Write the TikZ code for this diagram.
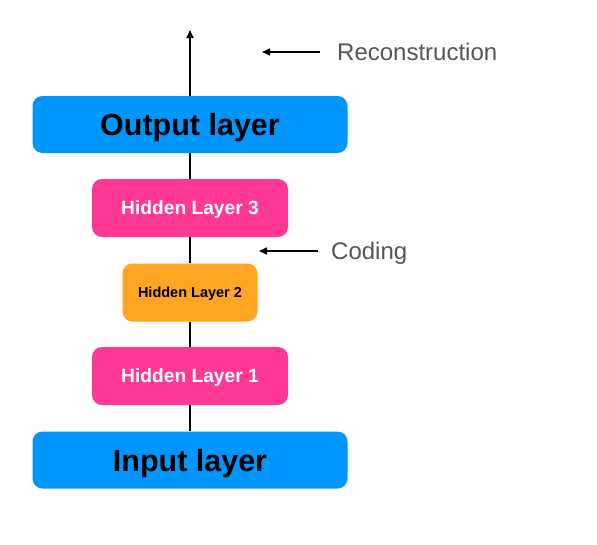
\documentclass[tikz,border=0pt]{standalone}
\usepackage{fontspec}
\setmainfont{Liberation Sans}
\usetikzlibrary{arrows.meta}
\definecolor{cblue}{RGB}{0,150,255}
\definecolor{cpink}{RGB}{255,56,148}
\definecolor{corange}{RGB}{255,165,35}
\definecolor{cgray}{RGB}{85,85,85}
\begin{document}
\begin{tikzpicture}[x=1pt,y=-1pt,
  layerbox/.style={rounded corners=10pt, inner sep=0pt, anchor=center, text depth=0pt},
  bigbox/.style={layerbox, fill=cblue, minimum width=315pt, minimum height=57pt,
    font=\fontsize{30.5}{33}\selectfont\bfseries, text=black, text height=22pt},
  hidbox/.style={layerbox, fill=cpink, minimum width=196pt, minimum height=58pt,
    font=\fontsize{19.2}{21}\selectfont\bfseries, text=white, text height=13.8pt},
  midbox/.style={layerbox, fill=corange, minimum width=135pt, minimum height=58pt,
    font=\fontsize{14.5}{16}\selectfont\bfseries, text=black, text height=10.4pt},
  conn/.style={line width=1.6pt, draw=black},
  arr/.style={conn, -{Triangle[length=8pt,width=7pt]}},
  note/.style={anchor=west, inner sep=0pt, text=cgray, font=\fontsize{24}{26}\selectfont,
    text height=17.3pt, text depth=0pt}
]
\useasboundingbox (0,0) rectangle (597,544);
\coordinate (top) at (190,30);
\node[bigbox] (in) at (190,460) {Input layer};
\node[hidbox] (h1) at (190,376) {Hidden Layer 1};
\node[midbox] (h2) at (190,292.5) {Hidden Layer 2};
\node[hidbox] (h3) at (190,208) {Hidden Layer 3};
\node[bigbox] (out) at (190,124.5) {Output layer};
\draw[conn] (in.north) -- (h1.south);
\draw[conn] (h1.north) -- (h2.south);
\draw[conn] (h2.north) -- (h3.south);
\draw[conn] (h3.north) -- (out.south);
\draw[arr] (out.north) -- (top);
% annotations
\coordinate (recS) at (320,52);
\coordinate (recE) at (262,52);
\node[note] (rec) at (337,52) {Reconstruction};
\draw[arr] (recS) -- (recE);
\coordinate (codS) at (318,251);
\coordinate (codE) at (259,251);
\node[note] (cod) at (331,251) {Coding};
\draw[arr] (codS) -- (codE);
\end{tikzpicture}
\end{document}
